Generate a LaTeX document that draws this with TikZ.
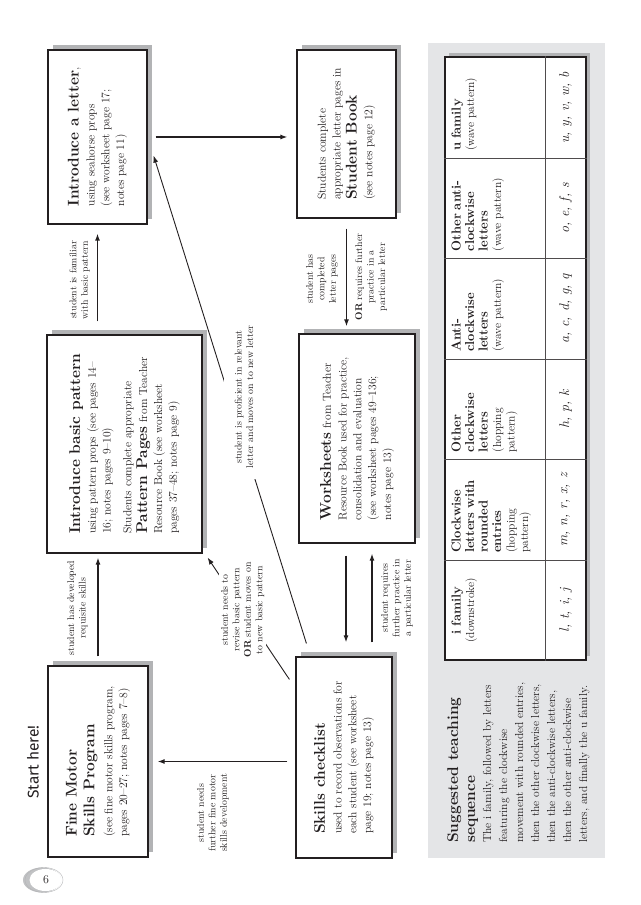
\documentclass[tikz,border=0pt]{standalone}
\usepackage{fontspec}
\usepackage{tikz}
\usetikzlibrary{arrows.meta,positioning,calc,shadows}
\newfontfamily\handfont{Fira Sans}
\definecolor{inkBlack}{RGB}{35,31,32}
\definecolor{shadowGray}{RGB}{178,179,181}
\definecolor{panelGray}{RGB}{228,229,231}
\newcommand{\head}[1]{{\fontsize{15.5}{18}\selectfont\bfseries #1}}
\newcommand{\cellhead}[1]{{\fontsize{13}{13.5}\selectfont\bfseries #1}}

\tikzset{
  box/.style={draw=inkBlack, line width=1.2pt, fill=white, align=left, inner sep=0pt,
    font=\fontsize{11.6}{14.8}\selectfont, text=inkBlack,
    drop shadow={shadow xshift=5pt, shadow yshift=5pt, fill=shadowGray, opacity=1}},
  lbl/.style={align=center, font=\fontsize{9.8}{11.5}\selectfont, text=inkBlack, inner sep=1pt},
  arr/.style={-{Latex[length=7pt,width=5pt]}, line width=1.2pt, draw=inkBlack},
  thinarr/.style={-{Latex[length=7pt,width=5pt]}, line width=0.9pt, draw=inkBlack},
  cellline/.style={draw=inkBlack!80, line width=0.8pt},
  headcell/.style={anchor=north west, align=left, inner sep=0pt, text width=90pt,
    font=\fontsize{11.6}{13.5}\selectfont, text=inkBlack},
  lettercell/.style={font=\fontsize{14}{14}\selectfont\itshape, text=inkBlack}
}

\begin{document}
\begin{tikzpicture}[x=1pt, y=1pt]
\useasboundingbox (0,0) rectangle (640,905);

% page number
\fill[shadowGray!80] (42,25) ellipse (19 and 12.5);
\fill[white] (45.5,25) ellipse (16 and 11);
\draw[shadowGray, line width=0.4pt] (44,25) ellipse (19 and 12.5);
\node[text=inkBlack, font=\fontsize{12}{12}\selectfont] (pagenum) at (46,25) {6};

\begin{scope}[shift={(640,0)}, rotate=90, transform shape]
  \node[text=inkBlack, font=\handfont\fontsize{15.5}{16}\selectfont] (start) at (143,607) {Start here!};

  % flow chart boxes
  \node[box, minimum width=191pt, minimum height=100pt] (fine) at (143.5,542)
    {\head{Fine Motor}\\[3pt]\head{Skills Program}\\[3pt](see fine motor skills program,\\pages 20--27; notes pages 7--8)};
  \node[box, minimum width=218pt, minimum height=155pt] (basic) at (461,515.5)
    {\head{Introduce basic pattern}\\[1pt]using pattern props (see pages 14--\\16; notes pages 9--10)\\[6pt]
     Students complete appropriate\\[1pt]\head{Pattern Pages} from Teacher\\Resource Book (see worksheet\\pages 37--48; notes page 9)};
  \node[box, minimum width=174pt, minimum height=99pt] (letter) at (768,542.5)
    {\head{Introduce a letter},\\[1pt]using seahorse props\\(see worksheet page 17;\\notes page 11)};
  \node[box, minimum width=201pt, minimum height=96pt] (skills) at (147.5,296)
    {\head{Skills checklist}\\[2pt]used to record observations for\\each student (see worksheet\\page 19; notes page 13)};
  \node[box, minimum width=209pt, minimum height=116pt] (ws) at (466.5,283)
    {\head{Worksheets} from Teacher\\[1pt]Resource Book used for practice,\\consolidation and evaluation\\(see worksheet pages 49--136;\\notes page 13)};
  \node[box, minimum width=168pt, minimum height=99pt] (book) at (771,293.5)
    {Students complete\\appropriate letter pages in\\[1pt]\head{Student Book}\\[1pt](see notes page 12)};

  % connectors
  \draw[arr, shorten <=9pt, shorten >=4pt] (fine.east) -- (fine.east -| basic.west);
  \node[lbl] (devlbl) at (297,562.5) {student has developed\\requisite skills};

  \draw[arr, shorten <=13pt, shorten >=9pt] (letter.west -| basic.east) -- (letter.west);
  \node[lbl] (famlbl) at (625,560.5) {student is familiar\\with basic pattern};

  \draw[arr, shorten <=8pt, shorten >=9pt] (letter.south) -- (letter.south |- book.north);

  \draw[arr, shorten <=10pt, shorten >=7pt] (book.west) -- (book.west -| ws.east);
  \node[lbl] (donelbl) at (626,318) {student has\\completed\\letter pages};
  \node[lbl] (orlbl) at (628,269) {\textbf{OR} requires further\\practice in a\\particular letter};

  \coordinate (wsA) at ($(ws.west)+(0,11)$);
  \coordinate (wsB) at ($(ws.west)+(0,-15)$);
  \draw[arr, shorten <=12pt, shorten >=14pt] (wsA) -- (wsA -| skills.east);
  \draw[arr, shorten <=14pt, shorten >=10pt] (wsB -| skills.east) -- (wsB);
  \node[lbl] (reqlbl) at (307,243) {student requires\\further practice in\\a particular letter};

  \draw[arr, shorten <=8pt, shorten >=9pt] (skills.north -| fine.south) -- (fine.south);
  \node[lbl] (motorlbl) at (92,427) {student needs\\further fine motor\\skills development};

  \draw[thinarr] ($(skills.north east)+(-23,6)$) --
    node[lbl, pos=0.57, fill=white, inner sep=2pt] (revlbl)
    {student needs to\\revise basic pattern\\\textbf{OR} student moves on\\to new basic pattern}
    ($(basic.south west)+(-4,-5)$);

  \draw[thinarr] ($(skills.north east)+(13,-11)$) -- ($(letter.south west)+(69,-6)$);
  \node[lbl, fill=white, inner sep=11pt] (proflbl) at (508,396)
    {student is proficient in relevant\\letter and moves on to new letter};

  % teaching sequence panel
  \node[fill=panelGray, minimum width=815pt, minimum height=177pt, inner sep=0pt] (panel) at (454.5,123.5) {};
  \node[anchor=north west, align=left, inner sep=0pt, font=\fontsize{11.6}{16}\selectfont, text=inkBlack] (seq) at (62,193)
    {\head{Suggested teaching}\\[1pt]\head{sequence}\\The i family, followed by letters\\featuring the clockwise\\
     movement with rounded entries,\\then the other clockwise letters,\\then the anti-clockwise letters,\\
     then the other anti-clockwise\\letters, and finally the u family.};

  \node[draw=inkBlack, line width=1.2pt, fill=white, minimum width=603pt, minimum height=141pt, inner sep=0pt,
        drop shadow={shadow xshift=4pt, shadow yshift=4pt, fill=shadowGray, opacity=1}] (table) at (546.5,124.5) {};
  \draw[cellline] ($(table.south west)+(0,41)$) -- ($(table.south east)+(0,41)$);
  \foreach \i in {1,...,5}
    \draw[cellline] ($(table.north west)+(\i*100.5,0)$) -- ($(table.south west)+(\i*100.5,0)$);

  % header cells
  \node[headcell, anchor=north, align=center] (head0) at ($(table.north west)+(50.25,-7)$)
    {\cellhead{i family}\\(downstroke)};
  \foreach \col/\txt in {
      1/{\cellhead{Clockwise}\\\cellhead{letters with}\\\cellhead{rounded}\\\cellhead{entries}\\(hopping\\pattern)},
      2/{\cellhead{Other}\\\cellhead{clockwise}\\\cellhead{letters}\\(hopping\\pattern)},
      3/{\cellhead{Anti-}\\\cellhead{clockwise}\\\cellhead{letters}\\(wave pattern)},
      4/{\cellhead{Other anti-}\\\cellhead{clockwise}\\\cellhead{letters}\\(wave pattern)},
      5/{\cellhead{u family}\\(wave pattern)}}
    \node[headcell] (head\col) at ($(table.north west)+(\col*100.5+7,-7)$) {\txt};

  % letter cells
  \foreach \col/\txt in {0/{l, t, i, j}, 1/{m, n, r, x, z}, 2/{h, p, k},
      3/{a, c, d, g, q}, 4/{o, e, f, s}, 5/{u, y, v, w, b}}
    \node[lettercell] (let\col) at ($(table.south west)+(\col*100.5+50.25,21)$) {\txt};
\end{scope}
\end{tikzpicture}
\end{document}
